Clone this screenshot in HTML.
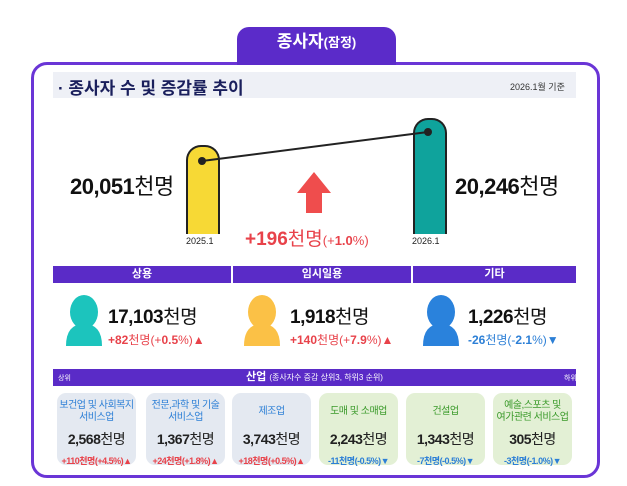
<!DOCTYPE html><html><head><meta charset="utf-8"><style>
body{margin:0;width:627px;height:486px;background:#fff;font-family:"Liberation Sans","Noto Sans CJK KR",sans-serif;position:relative;overflow:hidden}
.a{position:absolute}
.tab{left:237px;top:27px;width:159px;height:38px;background:#5b2bc9;border-radius:12px 12px 0 0;color:#fff;font-weight:bold;font-size:17px;text-align:center;line-height:30px}
.box{left:31px;top:62px;width:563px;height:410px;border:3px solid #6a35d6;border-radius:16px;background:#fff}
.hd{left:53px;top:72px;width:523px;height:26px;background:#eef0f6}
.num{font-weight:bold;color:#111;font-size:22px;letter-spacing:-0.5px}
.num span{font-weight:normal}
.bar{background:#5a2bc7;color:#fff;font-weight:bold;font-size:11px;text-align:center;line-height:17px;height:17px}
.card{top:393px;width:79px;height:72px;border-radius:9px;text-align:center;font-size:10px;letter-spacing:-0.5px}
.card .t{height:28px;display:flex;align-items:center;justify-content:center;line-height:12px;margin-top:5px}
.card .n{font-weight:bold;font-size:14px;color:#222;margin-top:3px}
.card .n span{font-weight:normal}
.card .c{font-size:9px;font-weight:bold;margin-top:5px}
.r{color:#e8424a}.b{color:#2c7fd6}
</style></head><body>
<div class="a box"></div>
<div class="a tab">종사자<span style="font-size:13px">(잠정)</span></div>
<div class="a hd"></div>
<div class="a" style="left:58px;top:74px;font-size:17px;font-weight:bold;color:#1a1f5c">· 종사자 수 및 증감률 추이</div>
<div class="a" style="left:510px;top:80px;font-size:9px;color:#333">2026.1월 기준</div>
<div class="a" style="left:186px;top:145px;width:30px;height:87px;background:#f7d935;border:2px solid #222;border-bottom:none;border-radius:15px 15px 0 0"></div>
<div class="a" style="left:413px;top:118px;width:30px;height:114px;background:#0fa39c;border:2px solid #222;border-bottom:none;border-radius:15px 15px 0 0"></div>
<svg class="a" style="left:0;top:0" width="627" height="486"><line x1="202" y1="161" x2="428" y2="132" stroke="#222" stroke-width="2"/><circle cx="202" cy="161" r="4" fill="#222"/><circle cx="428" cy="132" r="4" fill="#222"/>
<polygon points="314,172 331,193 322,193 322,213 306,213 306,193 297,193" fill="#ef4d4d"/></svg>
<div class="a" style="left:186px;top:236px;font-size:9px;color:#222">2025.1</div>
<div class="a" style="left:412px;top:236px;font-size:9px;color:#222">2026.1</div>
<div class="a num" style="left:70px;top:169px">20,051<span>천명</span></div>
<div class="a num" style="left:455px;top:169px">20,246<span>천명</span></div>
<div class="a r" style="left:245px;top:224px;font-size:19px;font-weight:bold">+196<span style="font-weight:normal">천명</span><span style="font-size:13px;font-weight:normal">(+<b>1.0</b>%)</span></div>
<div class="a bar" style="left:53px;top:266px;width:178px">상용</div>
<div class="a bar" style="left:233px;top:266px;width:178px">임시일용</div>
<div class="a bar" style="left:413px;top:266px;width:163px">기타</div>
<svg class="a" style="left:0;top:0" width="627" height="486">
<g fill="#1cc4bd"><ellipse cx="84" cy="312" rx="14" ry="17"/><path d="M66 346 Q66 324 84 324 Q102 324 102 346Z"/></g>
<g fill="#fbc146"><ellipse cx="262" cy="312" rx="14" ry="17"/><path d="M244 346 Q244 324 262 324 Q280 324 280 346Z"/></g>
<g fill="#2a82dc"><ellipse cx="441" cy="312" rx="14" ry="17"/><path d="M423 346 Q423 324 441 324 Q459 324 459 346Z"/></g></svg>
<div class="a num" style="left:108px;top:302px;font-size:19px">17,103<span>천명</span></div>
<div class="a r" style="left:108px;top:331px;font-size:12px"><b>+82</b>천명(+<b>0.5</b>%)▲</div>
<div class="a num" style="left:290px;top:302px;font-size:19px">1,918<span>천명</span></div>
<div class="a r" style="left:290px;top:331px;font-size:12px"><b>+140</b>천명(+<b>7.9</b>%)▲</div>
<div class="a num" style="left:468px;top:302px;font-size:19px">1,226<span>천명</span></div>
<div class="a b" style="left:468px;top:331px;font-size:12px"><b>-26</b>천명(-<b>2.1</b>%)▼</div>
<div class="a bar" style="left:53px;top:369px;width:523px">산업 <span style="font-weight:normal;font-size:8px">(종사자수 증감 상위3, 하위3 순위)</span></div>
<div class="a" style="left:58px;top:373px;font-size:7px;color:#fff">상위</div>
<div class="a" style="left:564px;top:373px;font-size:7px;color:#fff">하위</div>
<div class="a card" style="left:57px;background:#e4e9f1"><div class="t b">보건업 및 사회복지<br>서비스업</div><div class="n">2,568<span>천명</span></div><div class="c r">+110천명(+4.5%)▲</div></div>
<div class="a card" style="left:146px;background:#e4e9f1"><div class="t b">전문,과학 및 기술<br>서비스업</div><div class="n">1,367<span>천명</span></div><div class="c r">+24천명(+1.8%)▲</div></div>
<div class="a card" style="left:232px;background:#e4e9f1"><div class="t b">제조업</div><div class="n">3,743<span>천명</span></div><div class="c r">+18천명(+0.5%)▲</div></div>
<div class="a card" style="left:319px;background:#e3f0d5"><div class="t" style="color:#3a9a2a">도매 및 소매업</div><div class="n">2,243<span>천명</span></div><div class="c b">-11천명(-0.5%)▼</div></div>
<div class="a card" style="left:406px;background:#e3f0d5"><div class="t" style="color:#3a9a2a">건설업</div><div class="n">1,343<span>천명</span></div><div class="c b">-7천명(-0.5%)▼</div></div>
<div class="a card" style="left:493px;background:#e3f0d5"><div class="t" style="color:#3a9a2a">예술,스포츠 및<br>여가관련 서비스업</div><div class="n">305<span>천명</span></div><div class="c b">-3천명(-1.0%)▼</div></div>
</body></html>
